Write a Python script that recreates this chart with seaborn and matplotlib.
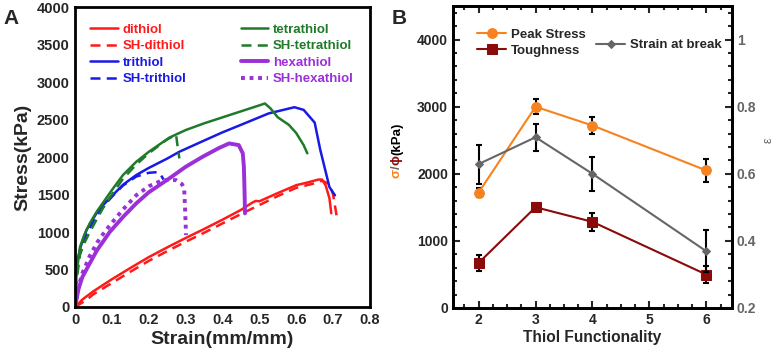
import numpy as np
import pandas as pd
import matplotlib
matplotlib.use("Agg")
import matplotlib.pyplot as plt
from matplotlib.ticker import MultipleLocator, AutoMinorLocator
import seaborn as sns

# ---------------- Panel A data (stress-strain curves) ----------------
dithiol_x = [0, 0.02, 0.05, 0.1, 0.15, 0.2, 0.25, 0.3, 0.35, 0.4, 0.45, 0.48, 0.49, 0.5, 0.55, 0.6, 0.63, 0.66, 0.67, 0.68, 0.69, 0.695]
dithiol_y = [0, 100, 210, 370, 520, 665, 795, 920, 1040, 1165, 1295, 1390, 1415, 1410, 1520, 1625, 1660, 1700, 1700, 1620, 1450, 1250]

sh_dithiol_x = [0, 0.03, 0.05, 0.1, 0.15, 0.2, 0.25, 0.3, 0.35, 0.4, 0.45, 0.5, 0.55, 0.6, 0.65, 0.67, 0.69, 0.7, 0.705, 0.71]
sh_dithiol_y = [0, 90, 170, 320, 470, 615, 745, 870, 990, 1115, 1240, 1360, 1480, 1590, 1650, 1685, 1640, 1500, 1350, 1200]

tetrathiol_x = [0, 0.003, 0.0135, 0.025, 0.04, 0.06, 0.08, 0.1, 0.13, 0.166, 0.2, 0.256, 0.3, 0.35, 0.4, 0.45, 0.5, 0.515, 0.53, 0.55, 0.58, 0.6, 0.62, 0.63]
tetrathiol_y = [0, 400, 800, 960, 1116, 1280, 1420, 1560, 1760, 1937, 2070, 2260, 2360, 2450, 2530, 2610, 2690, 2715, 2650, 2530, 2430, 2320, 2160, 2050]

sh_tetrathiol_x = [0, 0.003, 0.0135, 0.025, 0.04, 0.06, 0.076, 0.1, 0.13, 0.166, 0.2, 0.247, 0.274, 0.278, 0.283]
sh_tetrathiol_y = [0, 300, 700, 850, 1000, 1180, 1320, 1500, 1710, 1900, 2050, 2226, 2300, 2150, 1982]

trithiol_x = [0, 0.0045, 0.015, 0.031, 0.058, 0.08, 0.1, 0.13, 0.166, 0.2, 0.25, 0.283, 0.35, 0.4, 0.45, 0.525, 0.595, 0.62, 0.65, 0.665, 0.69, 0.705]
trithiol_y = [0, 582, 800, 1027, 1249, 1380, 1480, 1630, 1760, 1855, 1980, 2071, 2220, 2330, 2430, 2582, 2665, 2630, 2460, 2100, 1600, 1490]

sh_trithiol_x = [0, 0.0045, 0.015, 0.031, 0.058, 0.08, 0.1, 0.13, 0.166, 0.2, 0.225, 0.233, 0.24]
sh_trithiol_y = [0, 500, 750, 980, 1220, 1360, 1470, 1620, 1740, 1790, 1800, 1760, 1700]

hexathiol_x = [0, 0.01, 0.02, 0.04, 0.06, 0.08, 0.094, 0.13, 0.166, 0.2, 0.256, 0.3, 0.346, 0.39, 0.418, 0.444, 0.455, 0.458, 0.46, 0.461]
hexathiol_y = [0, 250, 400, 582, 760, 900, 1000, 1200, 1382, 1530, 1716, 1870, 2004, 2120, 2182, 2160, 2050, 1870, 1500, 1249]

sh_hexathiol_x = [0, 0.01, 0.02, 0.04, 0.06, 0.08, 0.103, 0.13, 0.166, 0.2, 0.238, 0.274, 0.29, 0.296, 0.299, 0.301]
sh_hexathiol_y = [0, 280, 450, 680, 860, 1000, 1140, 1300, 1490, 1610, 1693, 1693, 1640, 1582, 1250, 960]

# ---------------- Panel B data ----------------
functionality = [2, 3, 4, 6]
peak_stress = [1720, 3000, 2720, 2050]
peak_stress_err = [70, 115, 125, 170]
toughness = [672, 1502, 1284, 498]
toughness_err = [125, 60, 135, 125]
strain_break = [0.629, 0.709, 0.600, 0.369]
strain_break_err = [0.058, 0.040, 0.050, 0.062]

# ---------------- Style ----------------
sns.set_style("white")
plt.rcParams['font.family'] = ['Liberation Sans', 'DejaVu Sans']
plt.rcParams['font.weight'] = 'bold'
plt.rcParams['axes.labelweight'] = 'bold'

RED = '#ff1a1a'
GREEN = '#1f7a2a'
BLUE = '#1a1ae6'
PURPLE = '#9b30d9'
ORANGE = '#f7821e'
DARKRED = '#8b0a0a'
GREY = '#666666'

fig = plt.figure(figsize=(7.75, 3.58), dpi=100)
axA = fig.add_axes([0.0968, 0.1425, 0.3806, 0.8375])
axB = fig.add_axes([0.5845, 0.1397, 0.36, 0.8433])

# ---------------- Panel A ----------------
series = [
    ("dithiol", dithiol_x, dithiol_y, RED, '-', 1.8),
    ("SH-dithiol", sh_dithiol_x, sh_dithiol_y, RED, (0, (4, 2.5)), 1.8),
    ("trithiol", trithiol_x, trithiol_y, BLUE, '-', 1.8),
    ("SH-trithiol", sh_trithiol_x, sh_trithiol_y, BLUE, (0, (4, 2.5)), 1.8),
    ("tetrathiol", tetrathiol_x, tetrathiol_y, GREEN, '-', 1.8),
    ("SH-tetrathiol", sh_tetrathiol_x, sh_tetrathiol_y, GREEN, (0, (4, 2.5)), 1.8),
    ("hexathiol", hexathiol_x, hexathiol_y, PURPLE, '-', 2.8),
    ("SH-hexathiol", sh_hexathiol_x, sh_hexathiol_y, PURPLE, (0, (1, 1.2)), 2.8),
]
for name, xs, ys, col, ls, lw in series:
    sns.lineplot(x=xs, y=ys, ax=axA, color=col, linestyle=ls, linewidth=lw,
                 sort=False, estimator=None, label=name)

axA.set_xlim(0, 0.8)
axA.set_ylim(0, 4000)
xt = np.arange(0, 0.81, 0.1).round(1)
axA.set_xticks(xt)
axA.set_xticklabels([f"{v:g}" for v in xt])
axA.yaxis.set_major_locator(MultipleLocator(500))
axA.tick_params(direction='in', length=5, width=1.5, labelsize=10.5, pad=4)
for s in axA.spines.values():
    s.set_linewidth(2)
    s.set_color('black')
axA.set_xlabel("Strain(mm/mm)", fontsize=14, labelpad=3)
axA.set_ylabel("Stress(kPa)", fontsize=14, labelpad=4)

h, l = axA.get_legend_handles_labels()
legA = axA.legend(h, l, ncol=2, loc='upper left',
                  bbox_to_anchor=(0.012, 0.985), frameon=False, handlelength=2.1,
                  columnspacing=4.1, labelspacing=0.32, handletextpad=0.35,
                  fontsize=9.5, labelcolor='linecolor')

fig.text(0.005, 0.975, "A", fontsize=15, fontweight='bold', va='top', ha='left')

# ---------------- Panel B ----------------
dfB = pd.DataFrame({"f": functionality, "peak": peak_stress, "tough": toughness, "strain": strain_break})

axB.errorbar(functionality, peak_stress, yerr=peak_stress_err, fmt='none', ecolor='black',
             elinewidth=1.5, capsize=2.5, capthick=1.5, zorder=2)
axB.errorbar(functionality, toughness, yerr=toughness_err, fmt='none', ecolor='black',
             elinewidth=1.5, capsize=2.5, capthick=1.5, zorder=2)
sns.lineplot(data=dfB, x="f", y="peak", ax=axB, color=ORANGE, marker='o', markersize=7,
             markeredgecolor=ORANGE, linewidth=1.5, label="Peak Stress", zorder=3)
sns.lineplot(data=dfB, x="f", y="tough", ax=axB, color=DARKRED, marker='s', markersize=6.5,
             markeredgecolor=DARKRED, linewidth=1.5, label="Toughness", zorder=3)

axB2 = axB.twinx()
axB2.errorbar(functionality, strain_break, yerr=strain_break_err, fmt='none', ecolor='black',
              elinewidth=1.5, capsize=2.5, capthick=1.5, zorder=2)
sns.lineplot(data=dfB, x="f", y="strain", ax=axB2, color=GREY, marker='D', markersize=4,
             markeredgecolor=GREY, linewidth=1.5, label="Strain at break", zorder=3)

axB.set_xlim(1.55, 6.45)
axB.set_ylim(0, 4500)
axB2.set_ylim(0.2, 1.1)
axB.xaxis.set_major_locator(MultipleLocator(1))
axB.xaxis.set_minor_locator(AutoMinorLocator(4))
axB.yaxis.set_major_locator(MultipleLocator(1000))
axB.yaxis.set_minor_locator(AutoMinorLocator(5))
axB2.set_yticks([0.2, 0.4, 0.6, 0.8, 1.0])
axB2.set_yticklabels(["0.2", "0.4", "0.6", "0.8", "1"])
axB2.yaxis.set_minor_locator(AutoMinorLocator(5))

axB.tick_params(which='both', direction='in', top=True, bottom=True, left=True, right=False,
                width=1.5, labelsize=10)
axB.tick_params(which='major', length=5)
axB.tick_params(which='minor', length=3)
axB2.tick_params(which='both', direction='in', right=True, width=1.5, labelsize=10,
                 labelcolor=GREY)
axB2.tick_params(which='major', length=5)
axB2.tick_params(which='minor', length=3)
for ax in (axB, axB2):
    for s in ax.spines.values():
        s.set_linewidth(2)
        s.set_color('black')

axB.set_xlabel("Thiol Functionality", fontsize=11.2, labelpad=2)
axB.set_ylabel("")
axB2.set_ylabel("ε", fontsize=9, color=GREY, fontweight='normal')
axB2.yaxis.set_label_coords(1.11, 0.556)

axB.legend(loc='upper left', bbox_to_anchor=(0.045, 0.965), frameon=False,
           handlelength=2.2, handletextpad=0.35, labelspacing=0.3, fontsize=9.5)
axB2.legend(loc='upper left', bbox_to_anchor=(0.47, 0.93), frameon=False,
            handlelength=2.2, handletextpad=0.35, fontsize=9.5)

fig.text(0.505, 0.975, "B", fontsize=15, fontweight='bold', va='top', ha='left')

# Multi-coloured left y-label for panel B: σ/ϕ(kPa), reading bottom to top
pieces = [("σ", ORANGE), ("/", GREY), ("ϕ", DARKRED), ("(kPa)", 'black')]
x_pix = 397
y_pix = 358 - 178
for txt, col in pieces:
    t = fig.text(x_pix / 775, y_pix / 358, txt, rotation=90, color=col, fontsize=9.5,
                 fontweight='bold', ha='left', va='center', rotation_mode='anchor')
    fig.canvas.draw()
    bb = t.get_window_extent(renderer=fig.canvas.get_renderer())
    y_pix += bb.height

fig.savefig("out.png", dpi=100)
